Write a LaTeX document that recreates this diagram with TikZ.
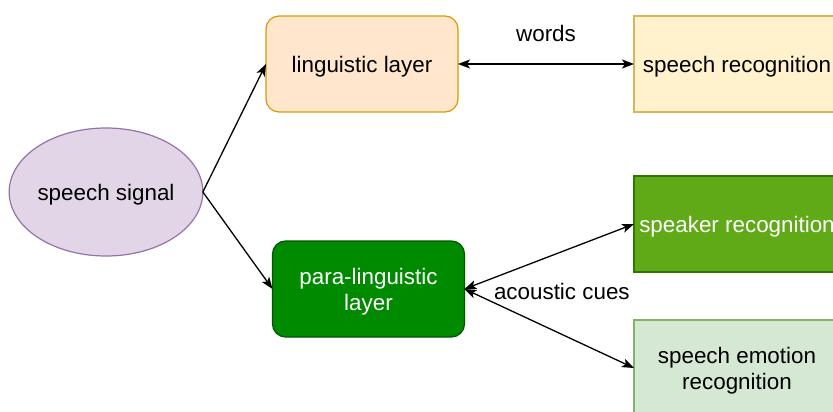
\documentclass[tikz,border=0pt]{standalone}
\usepackage{fontspec}
\setmainfont{Liberation Sans}
\usetikzlibrary{arrows.meta,shapes.geometric}
\definecolor{purpFill}{HTML}{E1D5E7}\definecolor{purpLine}{HTML}{9673A6}
\definecolor{orFill}{HTML}{FFE6CC}\definecolor{orLine}{HTML}{D79B00}
\definecolor{yeFill}{HTML}{FFF2CC}\definecolor{yeLine}{HTML}{D6B656}
\definecolor{grFill}{HTML}{60A917}\definecolor{grLine}{HTML}{2D7600}
\definecolor{dgFill}{HTML}{008A00}\definecolor{dgLine}{HTML}{005700}
\definecolor{lgFill}{HTML}{D5E8D4}\definecolor{lgLine}{HTML}{82B366}
% lower a label visually without changing the size used for centring
\newcommand{\dropped}[1]{\raisebox{-3pt}[\height][\depth]{\begin{tabular}{@{}c@{}}#1\end{tabular}}}
\tikzset{
  every node/.style={font=\fontsize{22.4}{26.5}\selectfont, inner sep=0pt, outer sep=0pt},
  box/.style={rectangle, minimum width=192pt, minimum height=96pt, line width=1.2pt, align=center},
  rbox/.style={box, rounded corners=13pt},
  wide/.style={box, minimum width=206pt},
  conn/.style={line width=1.3pt, black, {Stealth[length=12pt,width=9pt,inset=3pt]}-{Stealth[length=12pt,width=9pt,inset=3pt]}},
  oneway/.style={line width=1.3pt, black, -{Stealth[length=12pt,width=9pt,inset=3pt]}},
  lbl/.style={fill=none, text=black}
}
\begin{document}
\begin{tikzpicture}[x=1pt,y=-1pt]
\useasboundingbox (0,0) rectangle (833,412);
\clip (0,0) rectangle (833,412);
% source signal
\node[ellipse, draw=purpLine, fill=purpFill, line width=1.2pt, minimum width=192pt, minimum height=128pt] (sig) at (106,192) {\dropped{speech signal}};
% analysis layers
\node[rbox, draw=orLine, fill=orFill] (ling) at (362,64) {\dropped{linguistic layer}};
\node[rbox, draw=dgLine, fill=dgFill, text=white] (para) at (368.5,289) {\dropped{para-linguistic\\layer}};
% recognition tasks
\node[wide, draw=yeLine, fill=yeFill, anchor=west] (asr) at (634,64) {\dropped{speech recognition}};
\node[wide, draw=grLine, fill=grFill, text=white, anchor=west] (spk) at (634,224) {\dropped{speaker recognition}};
\node[wide, draw=lgLine, fill=lgFill, anchor=west] (ser) at (634,368) {\dropped{speech emotion\\recognition}};
% connectors
\draw[oneway] (sig.east) -- (ling.west);
\draw[oneway] (sig.east) -- (para.west);
\draw[conn] (ling.east) -- (asr.west);
\draw[conn] (para.east) -- (spk.west);
\draw[conn] (para.east) -- (ser.west);
% labels
\node[lbl] (w) at (546,33) {words};
\node[lbl, anchor=west] (ac) at (494,291) {acoustic cues};
\end{tikzpicture}
\end{document}
